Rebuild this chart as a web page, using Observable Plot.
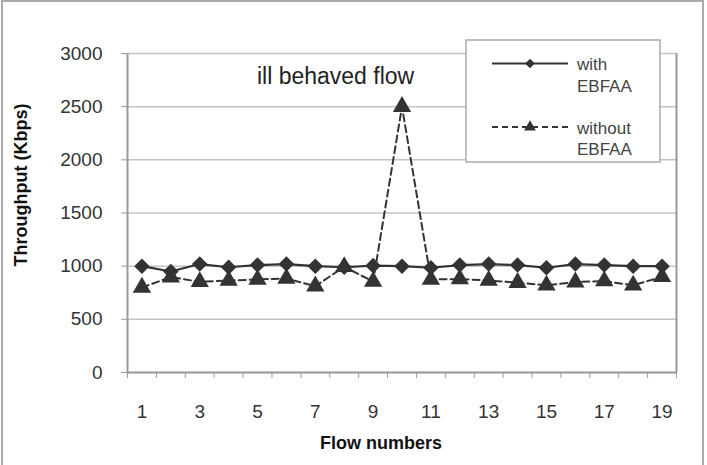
<!DOCTYPE html>
<html>
<head>
<meta charset="utf-8">
<script src="https://cdn.jsdelivr.net/npm/d3@7"></script>
<script src="https://cdn.jsdelivr.net/npm/@observablehq/plot@0.6"></script>
<style>
html, body { margin: 0; padding: 0; background: #fff; }
#wrap { position: relative; width: 707px; height: 465px; overflow: hidden; font-family: "Liberation Sans", Arial, sans-serif; }
#border { position: absolute; left: 1px; top: 0; width: 703px; height: 480px; border: 2px solid #aaa; box-sizing: border-box; pointer-events: none; }
#legend { position: absolute; left: 0; top: 0; pointer-events: none; }
</style>
</head>
<body>
<div id="wrap"><div id="border"></div></div>
<script>
// ---- data ----
const flows = [1, 2, 3, 4, 5, 6, 7, 8, 9, 10, 11, 12, 13, 14, 15, 16, 17, 18, 19];
const withEBFAA = [1000, 950, 1020, 990, 1010, 1020, 1000, 990, 1005, 1000, 985, 1010, 1020, 1010, 985, 1020, 1010, 1000, 1000];
const withoutEBFAA = [800, 897, 853, 865, 875, 884, 812, 994, 855, 2500, 875, 879, 865, 845, 820, 850, 860, 820, 900];
const xTicks = [1, 3, 5, 7, 9, 11, 13, 15, 17, 19];
const yTicks = [0, 500, 1000, 1500, 2000, 2500, 3000];
const seriesNames = ["with\nEBFAA", "without\nEBFAA"];
const xLabel = "Flow numbers";
const yLabel = "Throughput (Kbps)";
const annotation = {text: "ill behaved flow", x: 7.7, y: 2785};

// ---- build table ----
const rowsWith = flows.map((f, i) => ({flow: f, value: withEBFAA[i]}));
const rowsWithout = flows.map((f, i) => ({flow: f, value: withoutEBFAA[i]}));
const xDomain = [flows[0] - 0.5, flows[flows.length - 1] + 0.5];
const bandEdges = flows.map(f => f - 0.5).concat([xDomain[1]]);

const ink = "#333";
const axisGray = "#9a9a9a";

const chart = Plot.plot({
  width: 707,
  height: 465,
  marginLeft: 127,
  marginRight: 31,
  marginTop: 53,
  marginBottom: 93,
  style: {fontFamily: "'Liberation Sans', Arial, sans-serif", fontSize: "19px", color: ink, background: "transparent", overflow: "visible"},
  x: {domain: xDomain},
  y: {domain: [yTicks[0], yTicks[yTicks.length - 1]]},
  marks: [
    Plot.gridY(yTicks, {stroke: "#c4c4c4", strokeOpacity: 1, strokeWidth: 1.5}),
    Plot.ruleX([xDomain[1]], {stroke: axisGray, strokeWidth: 2}),
    Plot.ruleX([xDomain[0]], {stroke: axisGray, strokeWidth: 2}),
    Plot.ruleY([yTicks[0]], {stroke: axisGray, strokeWidth: 2}),
    Plot.axisY({ticks: yTicks, tickSize: 6, tickPadding: 19, tickFormat: d => String(d), stroke: axisGray, fill: ink, fontSize: 19, label: null}),
    Plot.axisX({ticks: bandEdges, tickSize: 6, tickFormat: () => "", stroke: axisGray, label: null}),
    Plot.axisX({ticks: xTicks, tickSize: 0, tickPadding: 32, tickFormat: d => String(d), fill: ink, fontSize: 19, label: null}),
    Plot.line(rowsWithout, {x: "flow", y: "value", stroke: ink, strokeWidth: 2, strokeDasharray: "7,4"}),
    Plot.line(rowsWith, {x: "flow", y: "value", stroke: ink, strokeWidth: 2.2}),
    Plot.dot(rowsWith, {x: "flow", y: "value", symbol: "diamond2", r: 7, fill: ink, stroke: "none"}),
    Plot.dot(rowsWithout, {x: "flow", y: "value", symbol: "triangle", r: 6.8, fill: ink, stroke: "none"}),
    Plot.text([annotation], {x: "x", y: "y", text: "text", fontSize: 23, fill: "#222", textAnchor: "middle", lineAnchor: "middle"}),
    Plot.text([xLabel], {frameAnchor: "bottom", text: d => d, dx: -21, dy: 71, fontSize: 18, fontWeight: "bold", fill: "#111", textAnchor: "middle", lineAnchor: "middle"}),
    Plot.text([yLabel], {frameAnchor: "left", text: d => d, rotate: -90, dx: -106, dy: -28, fontSize: 18, fontWeight: "bold", fill: "#111", textAnchor: "middle", lineAnchor: "middle"})
  ]
});

const wrap = document.getElementById("wrap");
wrap.insertBefore(chart, wrap.firstChild);

// ---- legend ----
const ns = "http://www.w3.org/2000/svg";
const leg = document.createElementNS(ns, "svg");
leg.setAttribute("id", "legend");
leg.setAttribute("width", 707);
leg.setAttribute("height", 465);
const box = document.createElementNS(ns, "rect");
box.setAttribute("x", 466); box.setAttribute("y", 40);
box.setAttribute("width", 194); box.setAttribute("height", 122);
box.setAttribute("fill", "#fff"); box.setAttribute("stroke", "#aaa"); box.setAttribute("stroke-width", 1.5);
leg.appendChild(box);
const entries = [
  {name: seriesNames[0], dash: null, sym: d3.symbolDiamond2, ly: 63.5},
  {name: seriesNames[1], dash: "6,4", sym: d3.symbolTriangle, ly: 127}
];
entries.forEach(e => {
  const ln = document.createElementNS(ns, "line");
  ln.setAttribute("x1", 492); ln.setAttribute("x2", 568);
  ln.setAttribute("y1", e.ly); ln.setAttribute("y2", e.ly);
  ln.setAttribute("stroke", ink); ln.setAttribute("stroke-width", 2);
  if (e.dash) ln.setAttribute("stroke-dasharray", e.dash);
  leg.appendChild(ln);
  const p = document.createElementNS(ns, "path");
  p.setAttribute("d", d3.symbol(e.sym, 60)());
  p.setAttribute("transform", `translate(530,${e.ly})`);
  p.setAttribute("fill", ink);
  leg.appendChild(p);
  const t = document.createElementNS(ns, "text");
  t.setAttribute("x", 577);
  t.setAttribute("font-family", "'Liberation Sans', Arial, sans-serif");
  t.setAttribute("font-size", 17);
  t.setAttribute("fill", "#444");
  e.name.split("\n").forEach((s, k) => {
    const ts = document.createElementNS(ns, "tspan");
    ts.setAttribute("x", 577);
    ts.setAttribute("y", e.ly + 6.5 + k * 21.5);
    ts.textContent = s;
    t.appendChild(ts);
  });
  leg.appendChild(t);
});
wrap.appendChild(leg);
</script>
</body>
</html>
